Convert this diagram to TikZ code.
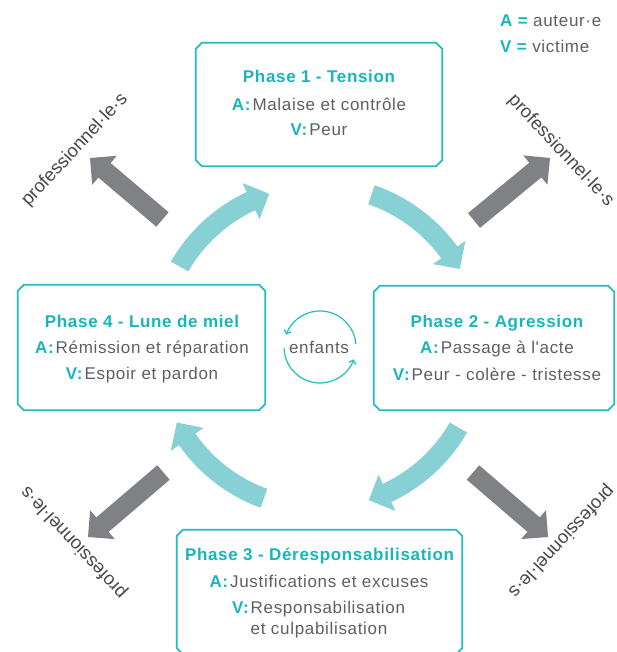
\documentclass[tikz,border=0pt]{standalone}
\usepackage{fontspec}
\setmainfont{Liberation Sans}[LetterSpace=4, Ligatures=TeXOff]
\newfontfamily\plainsans{Liberation Sans}
\usetikzlibrary{arrows.meta,calc}
\definecolor{tealtxt}{HTML}{17B6BC}
\definecolor{tealline}{HTML}{22BCC1}
\definecolor{teallight}{HTML}{87D0D4}
\definecolor{grayarrow}{HTML}{808184}
\definecolor{graytxt}{HTML}{5E5F61}
\definecolor{graylabel}{HTML}{48484A}
\newcommand{\lbl}[1]{\textcolor{tealtxt}{\bfseries #1:}\hspace{2pt}}
\tikzset{
  boxline/.style={draw=tealline, line width=1.8pt, line join=miter},
  ttl/.style={text=tealtxt, font=\bfseries\fontsize{17}{20}\selectfont, inner sep=0pt, anchor=base},
  bodytxt/.style={text=graytxt, font=\fontsize{17}{21}\selectfont, inner sep=0pt, anchor=base},
  prolabel/.style={text=graylabel, font=\plainsans\fontsize{18.5}{21}\selectfont, inner sep=0pt},
  cyclearc/.style={draw=tealline, line width=1.2pt, -{Straight Barb[length=3.5pt,width=7pt]}}
}
\newcommand{\chambox}[5]{%
  \node[minimum width=#4pt, minimum height=#5pt, inner sep=0pt] (#1) at (#2,#3) {};
  \draw[boxline] ([xshift=6pt]#1.north west) -- ([xshift=-6pt]#1.north east)
    -- ([yshift=-6pt]#1.north east) -- ([yshift=6pt]#1.south east)
    -- ([xshift=-6pt]#1.south east) -- ([xshift=6pt]#1.south west)
    -- ([yshift=6pt]#1.south west) -- ([yshift=-6pt]#1.north west) -- cycle;
}
\newcommand{\bendarr}[2]{%
  \pgfmathsetmacro\hb{#2-7}
  \fill[teallight] ($(cc)+(#1:171)$) arc[start angle=#1, end angle=\hb, radius=171]
    -- ($(cc)+(\hb:181)$) -- ($(cc)+(#2:161)$) -- ($(cc)+(\hb:141)$)
    -- ($(cc)+(\hb:151)$) arc[start angle=\hb, end angle=#1, radius=151] -- cycle;
}
\newcommand{\fatarr}[2]{%
  \coordinate (tmph) at ($(#2)!19pt!(#1)$);
  \fill[grayarrow] ($(#1)!9.5pt!90:(#2)$) -- ($(tmph)!9.5pt!90:(#2)$)
    -- ($(tmph)!19pt!90:(#2)$) -- (#2) -- ($(tmph)!19pt!-90:(#2)$)
    -- ($(tmph)!9.5pt!-90:(#2)$) -- ($(#1)!9.5pt!-90:(#2)$) -- cycle;
}
\begin{document}
\begin{tikzpicture}[x=1pt,y=-1pt]
\useasboundingbox (0,0) rectangle (617,652);
\fill[white] (0,0) rectangle (617,652);

% centre of the cycle
\coordinate (cc) at (319,347);

% curved teal arrows
\bendarr{-150}{-108}
\bendarr{-71}{-29}
\bendarr{30}{72}
\bendarr{110}{152}

% gray arrows towards professionals
\coordinate (g1s) at (162.5,219.5); \coordinate (g1e) at (90,158);
\coordinate (g2s) at (474,220.5);   \coordinate (g2e) at (550,158);
\coordinate (g3s) at (163.5,472.5); \coordinate (g3e) at (88,537);
\coordinate (g4s) at (473,472.5);   \coordinate (g4e) at (548,537);
\fatarr{g1s}{g1e}
\fatarr{g2s}{g2e}
\fatarr{g3s}{g3e}
\fatarr{g4s}{g4e}

% professional labels
\node[prolabel, rotate=47]   (pr1) at (75,150)  {professionnel·le·s};
\node[prolabel, rotate=-47]  (pr2) at (561,151) {professionnel·le·s};
\node[prolabel, rotate=133]  (pr3) at (74,542)  {professionnel·le·s};
\node[prolabel, rotate=-133] (pr4) at (561,541) {professionnel·le·s};

% phase boxes
\chambox{p1}{319}{104.5}{246}{123}
\chambox{p2}{494}{348}{240}{124}
\chambox{p4}{141.5}{347.5}{247}{125}
\chambox{p3}{319.5}{592}{285}{124}

% phase 1
\node[ttl] (t1) at (319,83) {Phase 1 - Tension};
\node[bodytxt] (a1) at (319,111) {\lbl{A}Malaise et contrôle};
\node[bodytxt] (v1) at (319,136) {\lbl{V}Peur};
% phase 2
\node[ttl] (t2) at (497,327) {Phase 2 - Agression};
\node[bodytxt] (a2) at (497,353) {\lbl{A}Passage à l'acte};
\node[bodytxt] (v2) at (497,380) {\lbl{V}Peur - colère - tristesse};
% phase 4
\node[ttl] (t4) at (142,327) {Phase 4 - Lune de miel};
\node[bodytxt] (a4) at (142,353) {\lbl{A}Rémission et réparation};
\node[bodytxt] (v4) at (142,379) {\lbl{V}Espoir et pardon};
% phase 3
\node[ttl] (t3) at (319.5,560) {Phase 3 - Déresponsabilisation};
\node[bodytxt] (a3) at (319,587) {\lbl{A}Justifications et excuses};
\node[bodytxt] (v3) at (318.5,613) {\lbl{V}\begin{tabular}[t]{@{}l@{}}Responsabilisation\\et culpabilisation\end{tabular}};

% legend
\node[bodytxt, anchor=base west] (lgA) at (500,27) {\textcolor{tealtxt}{\bfseries A =} auteur·e};
\node[bodytxt, anchor=base west] (lgV) at (500,53) {\textcolor{tealtxt}{\bfseries V =} victime};

% children cycle
\coordinate (sc) at (320,347);
\node[bodytxt, anchor=center] (enf) at (319,347) {enfants};
\draw[cyclearc] ($(sc)+(-5:36)$) arc[start angle=-5, end angle=-160, radius=36];
\draw[cyclearc] ($(sc)+(178:36)$) arc[start angle=178, end angle=20, radius=36];
\end{tikzpicture}
\end{document}
